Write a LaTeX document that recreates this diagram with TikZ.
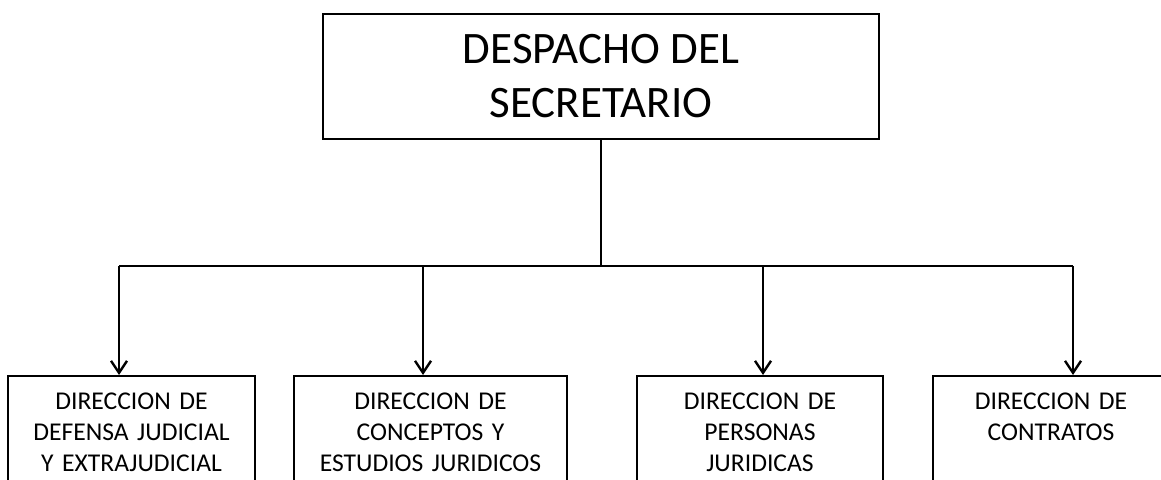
\documentclass[tikz,border=0pt]{standalone}
\usepackage{fontspec}
\setmainfont{Carlito}
\usetikzlibrary{arrows.meta}

\begin{document}
\begin{tikzpicture}[x=0.5pt,y=-0.5pt]

      \useasboundingbox (0,0) rectangle (1161,480);
      \clip (0,0) rectangle (1161,480);

      % Nodes
      \begin{scope}[every node/.style={draw,line width=1.2pt,align=center}]
        \node[minimum width=278pt,minimum height=62.5pt,font=\fontsize{22.5}{27}\selectfont] (desp) at (601,76.5) {DESPACHO DEL\\SECRETARIO};
      \end{scope}

      \begin{scope}[every node/.style={draw,line width=1.1pt,anchor=north,align=center,inner xsep=4pt,inner ysep=8.3pt,text depth=70pt,font=\fontsize{12.8}{15.5}\selectfont}]
        \node[text width=115.5pt] (dir1) at (131.5,375) {DIRECCION DE\\DEFENSA JUDICIAL\\Y EXTRAJUDICIAL};
        \node[text width=128.5pt] (dir2) at (430.5,375) {DIRECCION DE\\CONCEPTOS Y\\ESTUDIOS JURIDICOS};
        \node[text width=115pt] (dir3) at (760,375) {DIRECCION DE\\PERSONAS\\JURIDICAS};
        \node[text width=110pt] (dir4) at (1051,375) {DIRECCION DE\\CONTRATOS};
      \end{scope}

      \coordinate (t1) at (119,266);
      \coordinate (t2) at (423,266);
      \coordinate (t3) at (763,266);
      \coordinate (t4) at (1073,266);

      % Edges
      \begin{scope}[every edge/.style={draw,line width=1.2pt}]
        \path (desp.south) edge (desp.south |- t1);
        \path (t1) edge (t4);
      \end{scope}

      \begin{scope}[every edge/.style={draw,line width=1.2pt,-{Straight Barb[length=6pt,width=8pt]}}]
        \path (t1) edge (t1 |- dir1.north);
        \path (t2) edge (t2 |- dir2.north);
        \path (t3) edge (t3 |- dir3.north);
        \path (t4) edge (t4 |- dir4.north);
      \end{scope}

    \end{tikzpicture}
\end{document}
